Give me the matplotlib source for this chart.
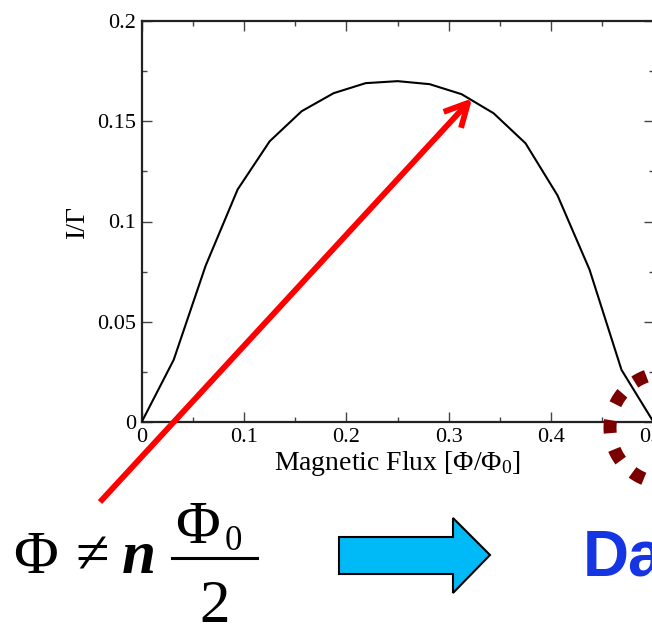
import numpy as np
import matplotlib
matplotlib.use("Agg")
import matplotlib.pyplot as plt
from matplotlib.patches import Polygon
from matplotlib.lines import Line2D
from matplotlib.ticker import MultipleLocator

# Persistent current vs. magnetic flux
flux = [0.0, 0.03125, 0.0625, 0.09375, 0.125, 0.15625, 0.1875, 0.21875, 0.25,
        0.28125, 0.3125, 0.34375, 0.375, 0.40625, 0.4375, 0.46875, 0.5]
current = [0.0, 0.031, 0.078, 0.116, 0.140, 0.155, 0.164, 0.169, 0.170,
           0.1685, 0.1635, 0.154, 0.139, 0.113, 0.076, 0.026, 0.0]

x_ticks = [0, 0.1, 0.2, 0.3, 0.4, 0.5]
x_tick_labels = ["0", "0.1", "0.2", "0.3", "0.4", "0.5"]
y_ticks = [0, 0.05, 0.1, 0.15, 0.2]
y_tick_labels = ["0", "0.05", "0.1", "0.15", "0.2"]

# point on the curve that the red arrow highlights
highlight = (0.323, 0.1615)

W, H = 652, 625
plt.rcParams["font.family"] = ["Liberation Serif", "DejaVu Serif"]
plt.rcParams["mathtext.fontset"] = "custom"
plt.rcParams["mathtext.rm"] = "Liberation Serif"
plt.rcParams["mathtext.it"] = "Liberation Serif:italic"
plt.rcParams["mathtext.bf"] = "Liberation Serif:bold"

fig = plt.figure(figsize=(W / 100, H / 100), dpi=100)


def fx(x):
    return x / W


def fy(y):
    return 1 - y / H


ax = fig.add_axes([141.7 / W, (H - 422) / H, (653.5 - 141.7) / W, 401 / H])
ax.plot(flux, current, color="black", lw=1.5, zorder=3)
ax.set_xlim(0, 0.5)
ax.set_ylim(0, 0.2)
ax.set_xticks(x_ticks)
ax.set_xticklabels(x_tick_labels)
ax.set_yticks(y_ticks)
ax.set_yticklabels(y_tick_labels)
ax.xaxis.set_minor_locator(MultipleLocator(0.05))
ax.yaxis.set_minor_locator(MultipleLocator(0.025))
ax.tick_params(which="both", direction="in", top=True, right=True,
               color="#444444", width=1.0, labelsize=16)
ax.tick_params(which="major", length=7.2)
ax.tick_params(which="minor", length=3.6)
ax.tick_params(axis="x", pad=4)
ax.tick_params(axis="y", pad=4)
for s in ax.spines.values():
    s.set_linewidth(1.6)
    s.set_color("#222222")
ax.set_xlabel("Magnetic Flux [Φ/Φ$_0$]", fontsize=20, labelpad=2)
ax.set_ylabel("I/Γ", fontsize=20, labelpad=5)

# red arrow pointing at the curve
ax.annotate("", xy=highlight, xycoords="data",
            xytext=(100, H - 502), textcoords="figure pixels",
            annotation_clip=False,
            arrowprops=dict(arrowstyle="->, head_length=1.66, head_width=0.85",
                            mutation_scale=10, color="#ff0000", lw=4.2,
                            shrinkA=0, shrinkB=0, capstyle="butt"),
            zorder=10)

# dotted dark-red circle near Φ = Φ0/2
cx, cy, r = 665, 428, 55
theta = np.linspace(0, 2 * np.pi, 721)
circ_x = [fx(cx + r * np.cos(t)) for t in theta]
circ_y = [fy(cy - r * np.sin(t)) for t in theta]
lw_px = 13
fig.add_artist(Line2D(circ_x, circ_y, transform=fig.transFigure,
                      color="#7a0000", lw=lw_px * 0.72,
                      linestyle=(22.84 / lw_px, (1.0, 1.289)),
                      dash_capstyle="butt", zorder=9))

# formula  Φ ≠ n Φ0 / 2
fs = 44
fig.text(fx(13), fy(573), "Φ", fontsize=fs, va="baseline", ha="left")
fig.text(fx(75), fy(573), "≠", fontsize=fs, va="baseline", ha="left")
fig.text(fx(122), fy(573), "n", fontsize=fs, va="baseline", ha="left",
         fontweight="bold", fontstyle="italic")
fig.text(fx(175), fy(543), "Φ", fontsize=fs, va="baseline", ha="left")
fig.text(fx(225), fy(550), "0", fontsize=25, va="baseline", ha="left")
fig.add_artist(Line2D([fx(172), fx(257)], [fy(558), fy(558)],
                      transform=fig.transFigure, color="black", lw=2.2))
fig.text(fx(215), fy(622), "2", fontsize=fs, va="baseline", ha="center")

# blue block arrow
arrow_pts = [(339, 537), (453, 537), (453, 518), (490, 555),
             (453, 593), (453, 574), (339, 574)]
fig.add_artist(Polygon([(fx(x), fy(y)) for x, y in arrow_pts], closed=True,
                       transform=fig.transFigure, facecolor="#00b9f7",
                       edgecolor="black", lw=1.5))

fig.text(fx(583), fy(575), "Da", fontsize=46, va="baseline", ha="left",
         fontweight="bold", color="#1535e3",
         family=["Liberation Sans", "DejaVu Sans"])

fig.savefig("out.png", dpi=100)
